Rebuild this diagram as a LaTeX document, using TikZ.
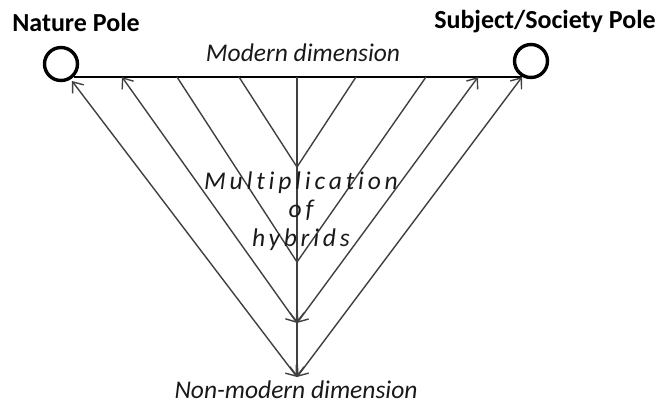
\documentclass[tikz,border=0pt]{standalone}
\usepackage{fontspec}
\setmainfont{Carlito}
\usetikzlibrary{arrows.meta, positioning}

\begin{document}
\begin{tikzpicture}[x=1pt, y=-1pt,
  pole/.style={circle, draw, line width=3.4pt, minimum size=33pt, inner sep=0pt},
  polelabel/.style={font=\fontsize{26}{30}\selectfont\bfseries},
  dimlabel/.style={font=\fontsize{25.5}{30}\selectfont\itshape, text=black!90, inner sep=1pt},
  ray/.style={line width=1.4pt, draw=black!75},
  arr/.style={ray, -{Straight Barb[length=9pt,width=14pt]}},
  dbl/.style={ray, {Straight Barb[length=9pt,width=14pt]}-{Straight Barb[length=9pt,width=14pt]}},
]
\useasboundingbox (0,0) rectangle (658,405);
% Polos
\node[pole] (nature)  at (61,64) {};
\node[pole] (subject) at (531,61) {};
\node[polelabel] (naturelbl)  at (76,22)  {Nature Pole};
\node[polelabel] (subjectlbl) at (545,22) {Subject/Society Pole};
% Puntos sobre la dimension moderna
\coordinate (L1) at (72,81);
\coordinate (L2) at (122,77);
\coordinate (L3) at (177,77);
\coordinate (L4) at (239,77);
\coordinate (M)  at (297,77);
\coordinate (R4) at (356,77);
\coordinate (R3) at (426,77);
\coordinate (R2) at (478,77);
\coordinate (R1) at (522,77);
% Vertices sobre el eje central
\coordinate (V1) at (297,167);
\coordinate (V2) at (297,262);
\coordinate (V3) at (297,323);
\coordinate (V4) at (297,377);
% Dimension moderna
\draw[line width=1.8pt] (nature.-45) -- (nature.-45 -| R1);
\node[dimlabel] (modern) at (303,53) {Modern dimension};
% Hibridos
\draw[ray] (L4) -- (V1) -- (R4);
\draw[ray] (L3) -- (V2) -- (R3);
\draw[dbl] (L2) -- (V3);
\draw[dbl] (R2) -- (V3);
\draw[dbl] (L1) -- (V4);
\draw[dbl] (R1) -- (V4);
\draw[arr] (M) -- (V3);
\draw[arr] (V3) -- (V4);
\node[dimlabel, align=center,
      font=\fontsize{25.5}{28.5}\selectfont\itshape\addfontfeature{LetterSpace=15, Ligatures=NoCommon}]
  (hybrids) at (301,211) {Multiplication\\of\\hybrids};
% Dimension no moderna
\node[dimlabel] (nonmodern) at (296,390) {Non-modern dimension};
\end{tikzpicture}
\end{document}
